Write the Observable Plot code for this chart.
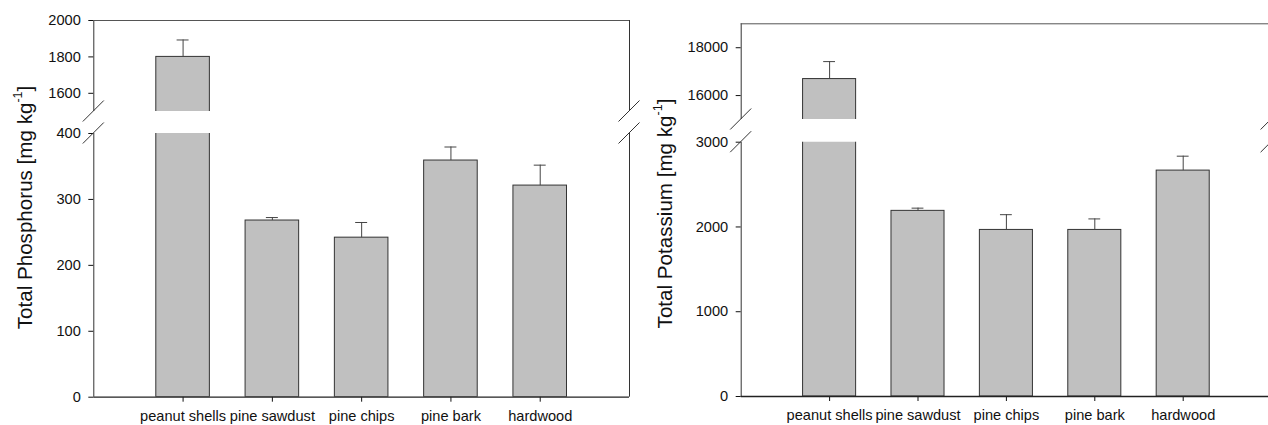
<!DOCTYPE html>
<html>
<head>
<meta charset="utf-8">
<script src="https://cdn.jsdelivr.net/npm/d3@7"></script>
<script src="https://cdn.jsdelivr.net/npm/@observablehq/plot@0.6"></script>
<style>
  html, body { margin: 0; padding: 0; background: #fff; overflow: hidden; }
  #wrap { position: relative; width: 1268px; height: 425px; overflow: hidden; background: #fff; }
  #wrap svg { position: absolute; top: 0; }
</style>
</head>
<body>
<div id="wrap"></div>
<script>
// ---- data ----
const categories = ["peanut shells", "pine sawdust", "pine chips", "pine bark", "hardwood"];

const phosphorus   = [1800, 268, 242, 359, 321];
const phosphorusSE = [93, 4.5, 23, 20.5, 31];
const phosphorusTicks = [0, 100, 200, 300, 400, 1600, 1800, 2000];
const phosphorusBreak = [400, 1500];      // top of lower segment, bottom of upper segment
const phosphorusTop = 2000;

const potassium   = [16690, 2190, 1965, 1965, 2665];
const potassiumSE = [730, 32, 180, 130, 170];
const potassiumTicks = [0, 1000, 2000, 3000, 16000, 18000];
const potassiumBreak = [3000, 15000];
const potassiumTop = 19000;

// ---- drawing ----
const FONT = "'Liberation Sans', Arial, Helvetica, sans-serif";
const wrap = document.getElementById("wrap");
const W = 640, H = 425;

function segment({rows, domain, ticks, marginLeft, marginRight, pxTop, pxBottom, showX, isTop, isBottom}) {
  const half = 0.3, cap = 0.067;
  const inRange = rows.filter(d => d.v + d.e <= domain[1] && d.v >= domain[0]);
  const marks = [
    Plot.rect(rows, {x1: d => d.pos - half, x2: d => d.pos + half, y1: 0, y2: "v",
      fill: "#c0c0c0", stroke: "#333", strokeWidth: 1, clip: true}),
    Plot.ruleX(inRange, {x: "pos", y1: "v", y2: d => d.v + d.e, stroke: "#444"}),
    Plot.ruleY(inRange, {y: d => d.v + d.e, x1: d => d.pos - cap, x2: d => d.pos + cap, stroke: "#444"}),
    Plot.ruleX([0, 6], {stroke: "#333"})
  ];
  if (isTop) marks.push(Plot.ruleY([domain[1]], {stroke: "#555"}));
  if (isBottom) marks.push(Plot.ruleY([0], {stroke: "#222", strokeWidth: 1.3}));
  return Plot.plot({
    width: W, height: H,
    marginLeft, marginRight,
    marginTop: pxTop, marginBottom: H - pxBottom,
    style: {fontFamily: FONT, fontSize: "14.6px", color: "#111", background: "transparent", overflow: "visible"},
    x: {domain: [0, 6], axis: showX ? "bottom" : null, ticks: [1, 2, 3, 4, 5], tickFormat: i => categories[i - 1],
        tickSize: 5, tickPadding: 8, label: null},
    y: {domain, ticks: ticks.filter(t => t >= domain[0] && t <= domain[1]), tickFormat: d3.format("d"),
        tickSize: 5, tickPadding: 8, label: null},
    marks
  });
}

function panel({values, errors, ticks, brk, top, title, left, marginLeft, marginRight, yPixels, titleY}) {
  const rows = categories.map((c, i) => ({cat: c, pos: i + 1, v: values[i], e: errors[i]}));
  const upper = segment({rows, domain: [brk[1], top], ticks, marginLeft, marginRight,
    pxTop: yPixels[3], pxBottom: yPixels[2], showX: false, isTop: true, isBottom: false});
  const lower = segment({rows, domain: [0, brk[0]], ticks, marginLeft, marginRight,
    pxTop: yPixels[1], pxBottom: yPixels[0], showX: true, isTop: false, isBottom: true});
  for (const c of [lower, upper]) { c.style.left = left + "px"; wrap.appendChild(c); }

  // axis-break slashes, placed with each segment's scales
  for (const [chart, yv] of [[upper, brk[1]], [lower, brk[0]]]) {
    const xs = chart.scale("x"), ys = chart.scale("y");
    const svg = d3.select(chart);
    for (const xv of [0, 6]) {
      const cx = xs.apply(xv), cy = ys.apply(yv);
      svg.append("line")
        .attr("x1", cx - 10.5).attr("y1", cy + 10.5)
        .attr("x2", cx + 10.5).attr("y2", cy - 10.5)
        .attr("stroke", "#333").attr("stroke-width", 1);
    }
  }
  // y-axis title with superscript
  const t = d3.select(lower).append("text")
    .attr("transform", `translate(31.5,${titleY}) rotate(-90)`)
    .attr("text-anchor", "middle")
    .attr("font-family", FONT).attr("font-size", 20.6).attr("fill", "#111");
  t.append("tspan").text(title + " [mg kg");
  t.append("tspan").attr("font-size", 12.5).attr("dy", -10).text("-1");
  t.append("tspan").attr("dy", 10).text("]");
}

panel({values: phosphorus, errors: phosphorusSE, ticks: phosphorusTicks, brk: phosphorusBreak, top: phosphorusTop,
  title: "Total Phosphorus", left: 0, marginLeft: 93.3, marginRight: 11, yPixels: [396.7, 133, 111, 20], titleY: 207.5});
panel({values: potassium, errors: potassiumSE, ticks: potassiumTicks, brk: potassiumBreak, top: potassiumTop,
  title: "Total Potassium", left: 640, marginLeft: 100.7, marginRight: 8.9, yPixels: [396, 141.7, 119, 23.3], titleY: 213.5});
</script>
</body>
</html>
